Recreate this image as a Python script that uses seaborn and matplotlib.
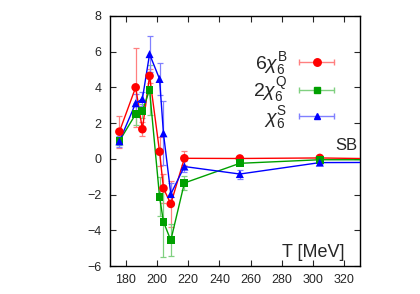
import numpy as np
import pandas as pd
import matplotlib
matplotlib.use("Agg")
import matplotlib.pyplot as plt
import seaborn as sns
from matplotlib.lines import Line2D
from matplotlib.legend_handler import HandlerLine2D, HandlerTuple

# temperatures (MeV)
T = [176, 186.4, 190.7, 195.3, 201.7, 204.2, 208.9, 217.6, 253.1, 304.3]
T_sb = 345  # Stefan-Boltzmann limit drawn off to the right edge

chi_B = [1.52, 4.0, 1.66, 4.64, 0.40, -1.65, -2.52, 0.03, 0.02, 0.05]
err_B = [0.9, 2.2, 0.4, 0.4, 0.8, 0.8, 1.3, 0.4, 0.1, 0.08]

chi_Q = [1.0, 2.5, 2.68, 3.86, -2.12, -3.52, -4.56, -1.35, -0.25, -0.05]
err_Q = [0.2, 0.6, 0.4, 1.4, 1.1, 2.0, 0.9, 0.4, 0.12, 0.06]

chi_S = [0.98, 3.11, 3.35, 5.86, 4.47, 1.43, -1.97, -0.43, -0.85, -0.21]
err_S = [0.3, 0.5, 0.4, 1.0, 0.9, 1.8, 0.6, 0.3, 0.25, 0.1]

sb_vals = [0.0, -0.05, -0.2]

labels = [r"$6\chi_6^{\rm B}$", r"$2\chi_6^{\rm Q}$", r"$\chi_6^{\rm S}$"]
colors = ["#ff0000", "#00a000", "#0000ff"]
light = ["#ff8080", "#80d080", "#8080ff"]
markers = ["o", "s", "^"]
msizes = [6.2, 5.6, 5.8]

sns.set_style("ticks")
plt.rcParams["font.family"] = ["Liberation Sans", "DejaVu Sans"]
plt.rcParams["mathtext.fontset"] = "custom"
plt.rcParams["mathtext.rm"] = "Liberation Sans"
plt.rcParams["mathtext.it"] = "Liberation Sans:italic"

fig = plt.figure(figsize=(4.2, 2.94), dpi=100)
ax = fig.add_axes([0.262, 0.095, 0.595, 0.851])

series = [chi_B, chi_Q, chi_S]
errs = [err_B, err_Q, err_S]
handles = []
for i in range(3):
    df = pd.DataFrame({"T": T + [T_sb], "v": series[i] + [sb_vals[i]]})
    sns.lineplot(data=df, x="T", y="v", color=colors[i], lw=1.0, ax=ax,
                 legend=False, zorder=3)
    ax.errorbar(T, series[i], yerr=errs[i], fmt="none", ecolor=light[i],
                elinewidth=0.9, capsize=2, capthick=0.9, zorder=2)
    sns.scatterplot(x=T, y=series[i], color=colors[i], marker=markers[i],
                    s=msizes[i] ** 2, edgecolor="none", ax=ax, legend=False,
                    zorder=4)
    bar = Line2D([], [], color=light[i], lw=1.0, marker="|", ms=5, mew=1.0)
    dot = Line2D([], [], color=colors[i], lw=0, marker=markers[i],
                 ms=msizes[i] - 0.8)
    handles.append((bar, dot))

ax.set_xlim(170, 330)
ax.set_ylim(-6, 8)
ax.set_xticks(np.arange(180, 321, 20))
ax.set_yticks(np.arange(-6, 9, 2))
ax.set_xlabel("")
ax.set_ylabel("")
ax.tick_params(direction="in", top=True, right=True, length=4,
               labelsize=9, width=0.8, pad=6)
for s in ax.spines.values():
    s.set_visible(True)
    s.set_linewidth(1.0)
    s.set_color("black")

hmap = {}
for bar, dot in handles:
    hmap[bar] = HandlerLine2D(numpoints=2)
    hmap[dot] = HandlerLine2D(numpoints=1)
hmap[tuple] = HandlerTuple(ndivide=1, pad=0)
leg = ax.legend(handles, labels, loc="upper right", bbox_to_anchor=(0.99, 0.935),
                frameon=False, markerfirst=False, fontsize=14,
                handlelength=2.4, labelspacing=-0.05, handletextpad=0.3,
                handler_map=hmap)

ax.text(0.94, 0.02, "T [MeV]", transform=ax.transAxes, ha="right",
        va="bottom", fontsize=13)
ax.text(0.99, 0.45, "SB", transform=ax.transAxes, ha="right",
        va="bottom", fontsize=12)

fig.savefig("out.png", dpi=100)
